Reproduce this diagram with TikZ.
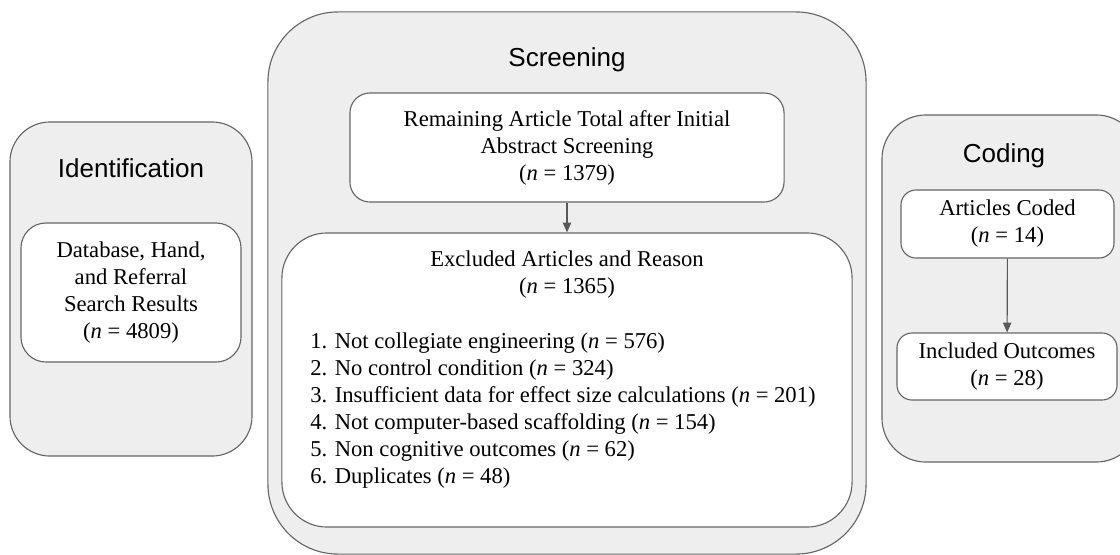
\documentclass[tikz,border=0pt]{standalone}
\usepackage{fontspec}
\setmainfont{Liberation Serif}
\newfontfamily\headfont{Liberation Sans}
\usetikzlibrary{arrows.meta}
\definecolor{stagefill}{HTML}{EEEEEE}
\definecolor{framegray}{HTML}{666666}
\definecolor{arrowgray}{HTML}{595959}
\begin{document}
\begin{tikzpicture}[x=0.025cm,y=-0.025cm,
  stage/.style={shape=rectangle,draw=framegray,fill=stagefill,line width=0.8pt},
  itembox/.style={shape=rectangle,draw=framegray,fill=white,line width=0.8pt,align=center,
    font=\fontsize{16.1}{19.2}\selectfont,inner sep=0pt,execute at begin node={\rule{0pt}{16pt}}},
  head/.style={font=\headfont\fontsize{18.5}{22}\selectfont,inner sep=0pt,anchor=base},
  flow/.style={-{Triangle[length=7pt,width=6pt]},draw=arrowgray,line width=0.8pt}]
\useasboundingbox (0,0) rectangle (1120,554);

% stages
\node[stage,rounded corners=1cm,minimum width=6.05cm,minimum height=8.35cm] (ident) at (131,289) {};
\node[stage,rounded corners=1.75cm,minimum width=14.95cm,minimum height=13.55cm] (screen) at (567,283) {};
\node[stage,rounded corners=1.1cm,minimum width=6.45cm,minimum height=8.675cm] (coding) at (1011,288.5) {};

\node[head] (identtitle) at (131,177) {Identification};
\node[head] (screentitle) at (567,66) {Screening};
\node[head] (codingtitle) at (1004,162) {Coding};

% identification
\node[itembox,rounded corners=0.625cm,minimum width=5.5cm,minimum height=3.475cm] (search) at (131,292.5)
  {Database, Hand,\\and Referral\\Search Results\\(\textit{n} = 4809)};

% screening
\node[itembox,rounded corners=0.5cm,minimum width=10.85cm,minimum height=2.725cm] (remaining) at (567,147.5)
  {Remaining Article Total after Initial\\Abstract Screening\\(\textit{n} = 1379)};
\node[itembox,rounded corners=1.125cm,minimum width=14.25cm,minimum height=7.35cm] (excluded) at (567,380) {};
\node[inner sep=0pt,align=center,font=\fontsize{16.1}{19.2}\selectfont,anchor=north] (exclhead) at (567,251)
  {Excluded Articles and Reason\\(\textit{n} = 1365)};
\node[inner sep=0pt,align=left,font=\fontsize{16.1}{19.2}\selectfont,anchor=north west] (excllist) at (310,333)
  {1. Not collegiate engineering (\textit{n} = 576)\\
   2. No control condition (\textit{n} = 324)\\
   3. Insufficient data for effect size calculations (\textit{n} = 201)\\
   4. Not computer-based scaffolding (\textit{n} = 154)\\
   5. Non cognitive outcomes (\textit{n} = 62)\\
   6. Duplicates (\textit{n} = 48)};

% coding
\node[itembox,rounded corners=0.375cm,minimum width=5.325cm,minimum height=1.7cm] (coded) at (1007.5,224)
  {Articles Coded\\(\textit{n} = 14)};
\node[itembox,rounded corners=0.375cm,minimum width=5.5cm,minimum height=1.675cm] (outcomes) at (1007,366.5)
  {Included Outcomes\\(\textit{n} = 28)};

\draw[flow] (remaining) -- (excluded);
\draw[flow] (coded) -- (outcomes);
\end{tikzpicture}
\end{document}
